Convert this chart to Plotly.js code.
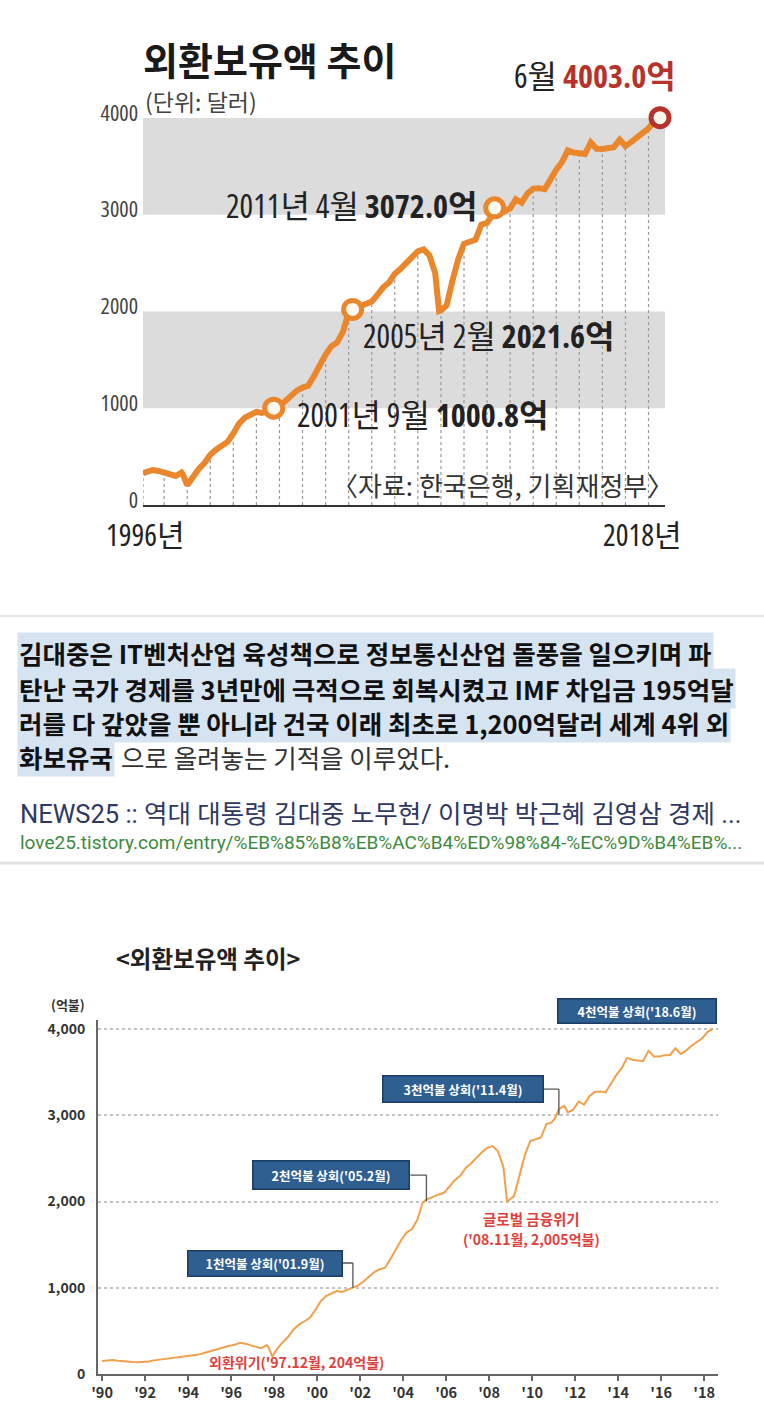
<!DOCTYPE html>
<html>
<head>
<meta charset="utf-8">
<script src="https://cdn.plot.ly/plotly-3.0.1.min.js"></script>
<style>
html,body{margin:0;padding:0;background:#fff;}
#chart{width:764px;height:1416px;}
/* narrow digits for the top chart (Open Sans is only used there) */
text[style*="Open Sans"], tspan[style*="Open Sans"] { font-stretch: condensed; }
</style>
</head>
<body>
<div id="chart"></div>
<script>
// ---- data: Korea foreign exchange reserves (억 달러) ----
const months = [
 '1990-01','1990-04','1990-07','1990-10','1990-12',
 '1991-03','1991-06','1991-09','1991-12',
 '1992-03','1992-06','1992-09','1992-12',
 '1993-03','1993-06','1993-09','1993-12',
 '1994-03','1994-06','1994-09','1994-12',
 '1995-03','1995-06','1995-09','1995-12',
 '1996-01','1996-03','1996-06','1996-09','1996-12',
 '1997-03','1997-06','1997-09','1997-10','1997-12',
 '1998-03','1998-06','1998-09','1998-12',
 '1999-03','1999-06','1999-09','1999-12',
 '2000-03','2000-06','2000-09','2000-12',
 '2001-03','2001-06','2001-09','2001-12',
 '2002-03','2002-06','2002-09','2002-12',
 '2003-03','2003-06','2003-09','2003-12',
 '2004-03','2004-06','2004-09','2004-12',
 '2005-02','2005-06','2005-09','2005-12',
 '2006-03','2006-06','2006-09','2006-12',
 '2007-03','2007-06','2007-09','2007-12',
 '2008-03','2008-06','2008-09','2008-11','2008-12',
 '2009-03','2009-06','2009-09','2009-12',
 '2010-03','2010-06','2010-09','2010-12',
 '2011-02','2011-04','2011-07','2011-09','2011-12',
 '2012-03','2012-06','2012-09','2012-12',
 '2013-03','2013-06','2013-09','2013-12',
 '2014-03','2014-06','2014-09','2014-12',
 '2015-03','2015-06','2015-09','2015-12',
 '2016-03','2016-06','2016-09','2016-12',
 '2017-03','2017-06','2017-09','2017-12',
 '2018-03','2018-06'
];
const reserves = [
 150,156,162,154,148,
 142,138,136,137,
 145,158,166,171,
 178,188,196,203,
 210,222,238,257,
 272,296,312,327,
 330,338,362,352,332,
 318,300,335,305,204,
 298,372,434,520,
 572,612,652,740,
 842,903,930,962,
 952,972,1001,1028,
 1072,1128,1182,1214,
 1232,1334,1452,1554,
 1640,1680,1790,1991,
 2022,2060,2082,2104,
 2172,2250,2300,2390,
 2440,2507,2570,2622,
 2642,2581,2397,2005,2012,
 2063,2317,2542,2700,
 2723,2742,2898,2916,
 2975,3072,3110,3034,3064,
 3160,3124,3220,3270,
 3275,3264,3369,3465,
 3543,3665,3644,3636,
 3627,3747,3681,3680,
 3697,3699,3776,3711,
 3750,3806,3847,3893,
 3967,4003
];
// milestones (top chart)
const milestoneMonths = ['2001-09','2005-02','2011-04','2018-06'];
const milestoneValues = [1000.8, 2021.6, 3072.0, 4003.0];
const milestoneLabels = ['2001년 9월 ', '2005년 2월 ', '2011년 4월 ', '6월 '];
// top chart tick labels
const topYTicks = [0, 1000, 2000, 3000, 4000];
const topXLabelDates = ['1996-01-01', '2018-01-01'];
const topXLabelText = ['1996년', '2018년'];
// bottom chart tick labels
const bottomYTicks = [0, 1000, 2000, 3000, 4000];
const bottomXTickYears = [1990,1992,1994,1996,1998,2000,2002,2004,2006,2008,2010,2012,2014,2016,2018];
const bottomXTickText = ["'90","'92","'94","'96","'98","'00","'02","'04","'06","'08","'10","'12","'14","'16","'18"];
// bottom callouts
const calloutMonths = ['2001-09','2005-02','2011-04'];
const calloutThresholds = [1000, 2000, 3000];
const calloutTexts = ["1천억불 상회('01.9월)", "2천억불 상회('05.2월)", "3천억불 상회('11.4월)"];
const topCalloutText = "4천억불 상회('18.6월)";
const crisis1 = {month: '1997-12', text: "외환위기('97.12월, 204억불)"};
const crisis2 = {month: '2008-11', line1: '글로벌 금융위기', line2: "('08.11월, 2,005억불)"};

// ---- helpers ----
const W = 764, H = 1416;
const px = x => x / W;
const py = y => 1 - y / H;
const KR = '"Noto Sans CJK KR", "Noto Sans", sans-serif';
const NARROW = '"Open Sans", "Noto Sans CJK KR", sans-serif';

// top subset (from 1996)
const topIdx = months.map((m, i) => i).filter(i => months[i] >= '1996-01');
const topX = topIdx.map(i => months[i]);
const topY = topIdx.map(i => reserves[i]);

// drop lines at year boundaries (first point + each December)
const dropX = [], dropY = [];
topIdx.forEach((i, k) => {
  if (k === 0 || months[i].endsWith('-12')) {
    dropX.push(months[i], months[i], null);
    dropY.push(0, reserves[i], null);
  }
});

const ORANGE = '#ea872c';
const traces = [
  {x: dropX, y: dropY, xaxis: 'x', yaxis: 'y', mode: 'lines',
   line: {color: '#9a9a9a', width: 1.2, dash: 'dot'}, hoverinfo: 'skip'},
  {x: topX, y: topY, xaxis: 'x', yaxis: 'y', mode: 'lines',
   line: {color: ORANGE, width: 6}, hoverinfo: 'skip'},
  {x: milestoneMonths, y: milestoneValues, xaxis: 'x', yaxis: 'y', mode: 'markers', cliponaxis: false,
   marker: {size: 18, color: '#fff8ef',
            line: {width: 5, color: [ORANGE, ORANGE, ORANGE, '#b8322c']}}, hoverinfo: 'skip'},
  {x: months, y: reserves, xaxis: 'x2', yaxis: 'y2', mode: 'lines',
   line: {color: '#f2a04c', width: 2}, hoverinfo: 'skip'}
];

const annotations = [];
const shapes = [];

// ---- top chart texts ----
annotations.push({xref: 'paper', yref: 'paper', x: px(141), y: py(59), xanchor: 'left', yanchor: 'middle',
  text: '<b>외환보유액 추이</b>', showarrow: false, font: {family: KR, size: 38, color: '#1a1a1a'}});
annotations.push({xref: 'paper', yref: 'paper', x: px(143), y: py(101), xanchor: 'left', yanchor: 'middle',
  text: '(단위: 달러)', showarrow: false, font: {family: KR, size: 23, color: '#444'}});
const labelPos = [
  {xanchor: 'left', xshift: 21, yshift: -6},
  {xanchor: 'left', xshift: 8, yshift: -26},
  {xanchor: 'right', xshift: -15, yshift: 2},
  {xanchor: 'right', xshift: 18, yshift: 42}
];
milestoneMonths.forEach((m, i) => {
  const val = milestoneValues[i].toFixed(1) + '억';
  const valTxt = i === 3 ? `<span style="color:#b8322c"><b>${val}</b></span>` : `<b>${val}</b>`;
  annotations.push(Object.assign({xref: 'x', yref: 'y', x: m, y: milestoneValues[i], yanchor: 'middle',
    text: milestoneLabels[i] + valTxt, showarrow: false,
    font: {family: NARROW, size: 32, color: '#222'}}, labelPos[i]));
});
const topXLabelShift = [2, -8];
topXLabelDates.forEach((d, i) => {
  annotations.push({xref: 'x', yref: 'paper', x: d, y: py(534), xanchor: 'center', yanchor: 'middle',
    xshift: topXLabelShift[i], text: topXLabelText[i], showarrow: false,
    font: {family: NARROW, size: 30, color: '#222'}});
});
annotations.push({xref: 'paper', yref: 'paper', x: px(675), y: py(485), xanchor: 'right', yanchor: 'middle',
  text: '〈자료: 한국은행, 기획재정부〉', showarrow: false, font: {family: KR, size: 26, color: '#333'}});

// gray bands
[[1000, 2000], [3000, 4000]].forEach(b => shapes.push({type: 'rect', xref: 'x domain', yref: 'y',
  x0: 0, x1: 1, y0: b[0], y1: b[1], fillcolor: '#dcdcdc', line: {width: 0}, layer: 'below'}));

// ---- text block ----
const para = [
  '김대중은 IT벤처산업 육성책으로 정보통신산업 돌풍을 일으키며 파',
  '탄난 국가 경제를 3년만에 극적으로 회복시켰고 IMF 차입금 195억달',
  '러를 다 갚았을 뿐 아니라 건국 이래 최초로 1,200억달러 세계 4위 외'
];
const paraY = [652, 688, 722];
const PFS = 25.5;
para.forEach((t, i) => annotations.push({xref: 'paper', yref: 'paper', x: px(17), y: py(paraY[i]),
  xanchor: 'left', yanchor: 'middle', text: '<b>' + t + '</b>', showarrow: false, bgcolor: '#d6e4f2',
  borderpad: 1, font: {family: KR, size: PFS, color: '#111'}}));
annotations.push({xref: 'paper', yref: 'paper', x: px(17), y: py(756), xanchor: 'left', yanchor: 'middle',
  text: '<b>화보유국</b>', showarrow: false, bgcolor: '#d6e4f2', borderpad: 1,
  font: {family: KR, size: PFS, color: '#111'}});
annotations.push({xref: 'paper', yref: 'paper', x: px(17 + 4 * PFS + 1), y: py(756), xanchor: 'left', yanchor: 'middle',
  text: '으로 올려놓는 기적을 이루었다.', showarrow: false, borderpad: 0,
  font: {family: KR, size: PFS, color: '#333'}});
annotations.push({xref: 'paper', yref: 'paper', x: px(18), y: py(814), xanchor: 'left', yanchor: 'middle',
  text: 'NEWS25 :: 역대 대통령 김대중 노무현/ 이명박 박근혜 김영삼 경제 ...', showarrow: false,
  font: {family: '"Roboto", "Noto Sans CJK KR", sans-serif', size: 25.5, color: '#2f3763'}});
annotations.push({xref: 'paper', yref: 'paper', x: px(18), y: py(842), xanchor: 'left', yanchor: 'middle',
  text: 'love25.tistory.com/entry/%EB%85%B8%EB%AC%B4%ED%98%84-%EC%9D%B4%EB%...', showarrow: false,
  font: {family: '"Roboto", sans-serif', size: 19, color: '#3e8a3e'}});
shapes.push({type: 'line', xref: 'paper', yref: 'paper', x0: 0, x1: 1, y0: py(616), y1: py(616),
  line: {color: '#e2e2e2', width: 2}});
shapes.push({type: 'line', xref: 'paper', yref: 'paper', x0: 0, x1: 1, y0: py(863), y1: py(863),
  line: {color: '#e2e2e2', width: 3}});

// ---- bottom chart texts ----
annotations.push({xref: 'paper', yref: 'paper', x: px(208), y: py(958), xanchor: 'center', yanchor: 'middle',
  text: '<b>&lt;외환보유액 추이&gt;</b>', showarrow: false, font: {family: KR, size: 23.5, color: '#222'}});
annotations.push({xref: 'paper', yref: 'paper', x: px(68), y: py(1004), xanchor: 'center', yanchor: 'middle',
  text: '<b>(억불)</b>', showarrow: false, font: {family: KR, size: 13, color: '#333'}});

const boxStyle = {bgcolor: '#2f5e91', bordercolor: '#1d3c63', borderwidth: 1.5, showarrow: false,
  font: {family: KR, size: 12.5, color: '#ffffff'}};
const calloutBoxVal = [1287, 2307, 3304];
const calloutGap = [10, 16, 15];
const calloutW = [156, 158, 162];
const calloutH = [27, 30, 28];
calloutMonths.forEach((m, i) => {
  annotations.push(Object.assign({xref: 'x2', yref: 'y2', x: m, y: calloutBoxVal[i], xanchor: 'right',
    yanchor: 'middle', xshift: -calloutGap[i], width: calloutW[i] - 5, height: calloutH[i] - 5,
    text: '<b>' + calloutTexts[i] + '</b>'}, boxStyle));
  shapes.push({type: 'line', xref: 'x2', yref: 'y2', xsizemode: 'pixel', xanchor: m,
    x0: -calloutGap[i], x1: 0, y0: calloutBoxVal[i], y1: calloutBoxVal[i], line: {color: '#555', width: 1.3}});
  shapes.push({type: 'line', xref: 'x2', yref: 'y2', x0: m, x1: m,
    y0: calloutBoxVal[i], y1: calloutThresholds[i], line: {color: '#555', width: 1.3}});
});
annotations.push(Object.assign({xref: 'paper', yref: 'paper', x: px(637), y: py(1011),
  xanchor: 'center', yanchor: 'middle', width: 155, height: 21,
  text: '<b>' + topCalloutText + '</b>'}, boxStyle));

annotations.push({xref: 'x2', yref: 'y2', x: crisis1.month, y: 0, xanchor: 'center', yanchor: 'bottom',
  xshift: 24, yshift: 0, text: '<b>' + crisis1.text + '</b>', showarrow: false,
  font: {family: KR, size: 14, color: '#e0403c'}});
annotations.push({xref: 'x2', yref: 'y2', x: crisis2.month, y: 2005, xanchor: 'center', yanchor: 'top',
  xshift: 24, yshift: -5, text: '<b>' + crisis2.line1 + '</b>', showarrow: false,
  font: {family: KR, size: 14.5, color: '#e0403c'}});
annotations.push({xref: 'x2', yref: 'y2', x: crisis2.month, y: 2005, xanchor: 'center', yanchor: 'top',
  xshift: 24, yshift: -26, text: '<b>' + crisis2.line2 + '</b>', showarrow: false,
  font: {family: KR, size: 14, color: '#e0403c'}});

const layout = {
  width: W, height: H, margin: {l: 0, r: 0, t: 0, b: 0},
  paper_bgcolor: '#ffffff', plot_bgcolor: 'rgba(0,0,0,0)', showlegend: false,
  xaxis: {domain: [px(143), px(665)], type: 'date', range: ['1996-01-01', '2018-08-19'],
    showgrid: false, zeroline: false, showline: true, linecolor: '#333', linewidth: 2,
    showticklabels: false, ticks: '', anchor: 'y'},
  yaxis: {domain: [py(505), py(112.2)], range: [0, 4060], showgrid: false, zeroline: false,
    showline: false, tickmode: 'array', tickvals: topYTicks, ticks: '', ticklabelstandoff: 4,
    ticklabelshift: -5, tickfont: {family: NARROW, size: 22, color: '#444'}, anchor: 'x'},
  xaxis2: {domain: [px(98), px(718)], type: 'date', range: ['1989-10-24', '2018-08-25'],
    showgrid: false, zeroline: false, showline: true, linecolor: '#666', linewidth: 2,
    tickmode: 'array', tickvals: bottomXTickYears.map(y => y + '-01-01'), ticktext: bottomXTickText,
    ticks: 'outside', ticklen: 5, tickwidth: 1.5, tickcolor: '#666',
    tickfont: {family: KR, size: 14.5, color: '#333', weight: 'bold'}, anchor: 'y2'},
  yaxis2: {domain: [py(1374), py(1020.4)], range: [0, 4100], showgrid: true, gridcolor: '#c4c4c4',
    griddash: 'dot', gridwidth: 2, zeroline: false, showline: true, linecolor: '#666', linewidth: 2,
    tickmode: 'array', tickvals: bottomYTicks, tickformat: ',d', ticks: '', ticklabelstandoff: 8,
    tickfont: {family: KR, size: 14, color: '#333', weight: 'bold'}, anchor: 'x2'},
  annotations: annotations,
  shapes: shapes
};

Plotly.newPlot('chart', traces, layout, {staticPlot: true, displayModeBar: false});
</script>
</body>
</html>
